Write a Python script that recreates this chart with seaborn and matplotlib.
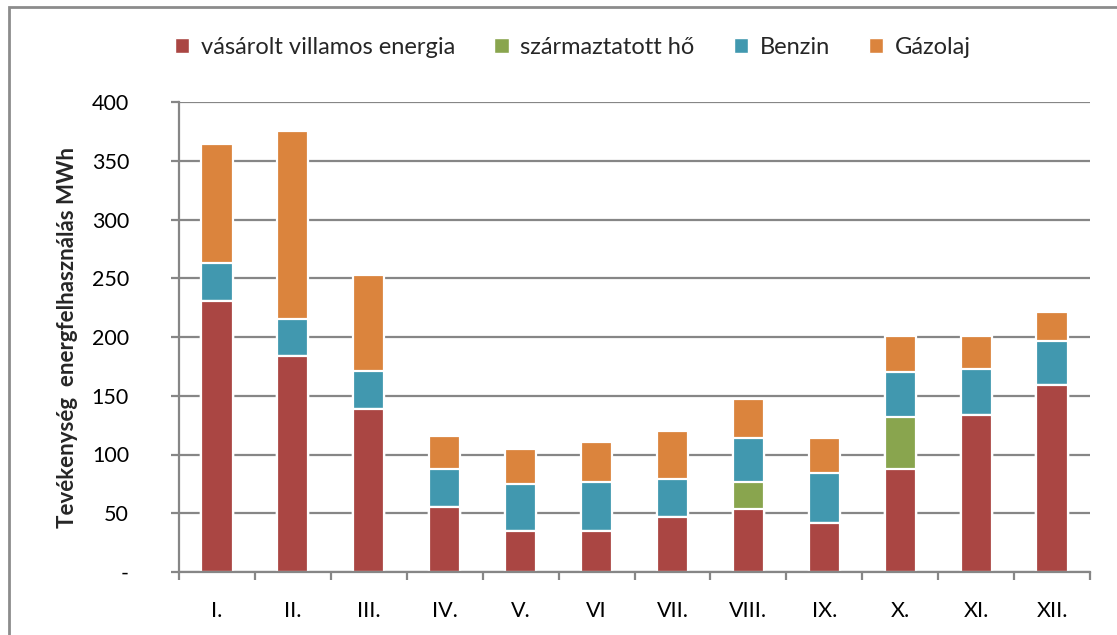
import numpy as np
import pandas as pd
import seaborn as sns
import matplotlib.pyplot as plt
from matplotlib.patches import Rectangle, Patch
from matplotlib.ticker import FixedLocator

months = ["I.", "II.", "III.", "IV.", "V.", "VI", "VII.", "VIII.", "IX.", "X.", "XI.", "XII."]
villamos = [231, 184, 139, 55, 35, 35, 47, 54, 42, 88, 134, 159]
ho = [0, 0, 0, 0, 0, 0, 0, 23, 0, 44, 0, 0]
benzin = [32, 31, 32, 33, 40, 42, 32, 37, 42, 38, 39, 38]
gazolaj = [101, 160, 82, 28, 30, 34, 41, 33, 30, 31, 28, 24]

series = ["vásárolt villamos energia", "származtatott hő", "Benzin", "Gázolaj"]
colors = ["#AA4643", "#89A54E", "#4198AF", "#DB843D"]

df = pd.DataFrame({
    "honap": months,
    series[0]: villamos,
    series[1]: ho,
    series[2]: benzin,
    series[3]: gazolaj,
})
# cumulative sums for stacking
cum = df[series].cumsum(axis=1)
cum["honap"] = df["honap"]

sns.set_theme(style="white")
plt.rcParams["font.family"] = ["Lato", "DejaVu Sans"]

fig = plt.figure(figsize=(11.17, 6.35), dpi=100)
ax = fig.add_axes([179 / 1117, 1 - 572 / 635, (1090 - 179) / 1117, (572 - 102) / 635])

grid_c = "#868686"
ax.set_axisbelow(True)
ax.yaxis.grid(True, color=grid_c, linewidth=1.6)

# draw tallest cumulative first, then smaller ones over it
for s, c in reversed(list(zip(series, colors))):
    sns.barplot(data=cum, x="honap", y=s, color=c, order=months, width=0.41,
                edgecolor="white", linewidth=1.6, saturation=1, ax=ax)

ax.set_xlim(-0.5, 11.5)
ax.set_ylim(0, 400)
ax.set_yticks(range(0, 401, 50))
ax.set_yticklabels(["-"] + [str(v) for v in range(50, 401, 50)])
ax.set_xlabel("")
ax.set_ylabel("Tevékenység  energfelhasználás MWh", fontsize=16, fontweight="bold", labelpad=10)

for side in ["top", "right"]:
    ax.spines[side].set_visible(False)
for side in ["left", "bottom"]:
    ax.spines[side].set_color(grid_c)
    ax.spines[side].set_linewidth(1.6)

ax.tick_params(axis="y", which="major", length=6, width=1.6, color=grid_c,
               direction="out", left=True, labelsize=15.5, pad=30, labelcolor="black")
ax.tick_params(axis="x", which="major", length=0, labelsize=15.5, pad=21, labelcolor="black")
ax.xaxis.set_minor_locator(FixedLocator(np.arange(-0.5, 12, 1)))
ax.tick_params(axis="x", which="minor", length=6, width=1.6, color=grid_c,
               direction="out", bottom=True)

handles = [Patch(facecolor=c, edgecolor="white") for c in colors]
fig.legend(handles, series, loc="center", bbox_to_anchor=(0.513, 1 - 47 / 635),
           ncol=4, frameon=False, fontsize=17, handlelength=0.6, handleheight=0.6,
           handletextpad=0.5, columnspacing=1.65)

# outer chart border (right and bottom fall outside the picture)
fig.patches.append(Rectangle((8.5 / 1117, -0.1), 1.2, 1.1 - 7.5 / 635,
                             transform=fig.transFigure, fill=False,
                             edgecolor="#8c8c8c", linewidth=2))

plt.savefig("out.png", dpi=100)
